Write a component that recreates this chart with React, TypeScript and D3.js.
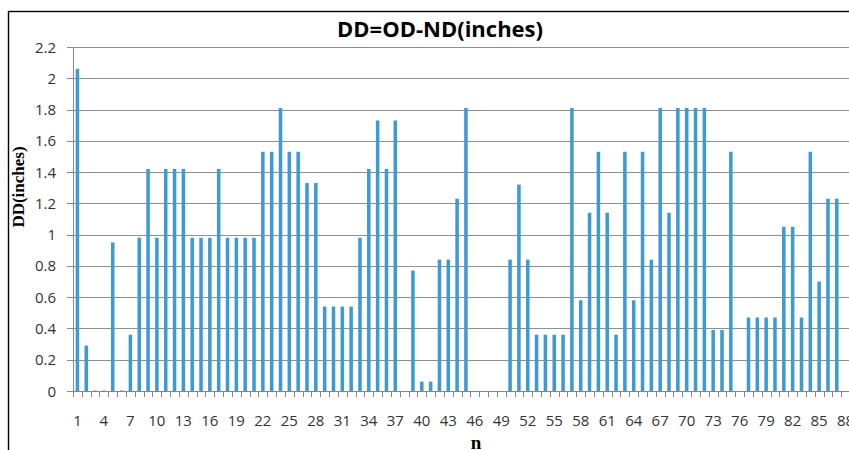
import React from 'react'
import * as d3 from 'd3'

// n = 1..88
const categories: number[] = d3.range(1, 89)
const ddValues: number[] = [
  2.06, 0.29, 0.005, 0.005, 0.95, 0.005, 0.36, 0.98, 1.42, 0.98,
  1.42, 1.42, 1.42, 0.98, 0.98, 0.98, 1.42, 0.98, 0.98, 0.98,
  0.98, 1.53, 1.53, 1.81, 1.53, 1.53, 1.33, 1.33, 0.54, 0.54,
  0.54, 0.54, 0.98, 1.42, 1.73, 1.42, 1.73, 0, 0.77, 0.06,
  0.06, 0.84, 0.84, 1.23, 1.81, 0, 0, 0, 0, 0.84,
  1.32, 0.84, 0.36, 0.36, 0.36, 0.36, 1.81, 0.58, 1.14, 1.53,
  1.14, 0.36, 1.53, 0.58, 1.53, 0.84, 1.81, 1.14, 1.81, 1.81,
  1.81, 1.81, 0.39, 0.39, 1.53, 0, 0.47, 0.47, 0.47, 0.47,
  1.05, 1.05, 0.47, 1.53, 0.70, 1.23, 1.23, 0,
]
const yTicks: number[] = [0, 0.2, 0.4, 0.6, 0.8, 1, 1.2, 1.4, 1.6, 1.8, 2, 2.2]
const xTickLabels: number[] = categories.filter(n => (n - 1) % 3 === 0)

const W = 849
const H = 450
const left = 73
const top = 47
const bottom = 391
const catW = 8.83

export default function App() {
  const x = d3.scaleBand<number>()
    .domain(categories)
    .range([left, left + catW * categories.length])
    .paddingInner(0.6)
    .paddingOuter(0.3)
  const y = d3.scaleLinear().domain([0, 2.2]).range([bottom, top])
  const step = x.step()
  const x0 = left

  const labelFont = "'Open Sans', sans-serif"
  const serif = "'Liberation Serif', 'DejaVu Serif', serif"

  return (
    <div style={{ position: 'absolute', left: 0, top: 0 }}>
      <svg width={W} height={H} style={{ display: 'block', background: '#fff' }}>
        {/* outer frame, cropped at right and bottom */}
        <rect x={8.5} y={11.5} width={900} height={500} fill="none" stroke="#000" strokeWidth={1.4} />

        {/* gridlines */}
        {yTicks.map(t => (
          <line key={'g' + t} x1={left} x2={W} y1={Math.round(y(t)) + 0.5} y2={Math.round(y(t)) + 0.5}
            stroke="#8f8f8f" strokeWidth={1} />
        ))}

        {/* bars */}
        {categories.map((n, i) => {
          const v = ddValues[i]
          if (v <= 0) return null
          const yt = y(v)
          const h = Math.max(bottom - yt, 1)
          return (
            <rect key={'b' + n} x={x(n)} y={bottom - h} width={x.bandwidth()} height={h}
              fill={v < 0.01 ? '#9cc9e8' : '#3c9bd4'} />
          )
        })}

        {/* y axis */}
        <line x1={left + 0.5} x2={left + 0.5} y1={top} y2={bottom} stroke="#868686" />
        {yTicks.map(t => (
          <g key={'y' + t}>
            <line x1={left - 6} x2={left} y1={Math.round(y(t)) + 0.5} y2={Math.round(y(t)) + 0.5} stroke="#868686" />
            <text x={56} y={y(t) + 5.5} textAnchor="end" fontFamily={labelFont} fontSize={15} fill="#333">
              {d3.format('~g')(t)}
            </text>
          </g>
        ))}

        {/* x axis */}
        <line x1={left} x2={W} y1={bottom + 0.5} y2={bottom + 0.5} stroke="#868686" />
        {d3.range(categories.length + 1).map(k => (
          <line key={'t' + k} x1={Math.round(x0 + k * step) + 0.5} x2={Math.round(x0 + k * step) + 0.5}
            y1={bottom} y2={bottom + 6} stroke="#868686" />
        ))}
        {xTickLabels.map(n => (
          <text key={'x' + n} x={(x(n) ?? 0) + x.bandwidth() / 2} y={426} textAnchor="middle"
            fontFamily={labelFont} fontSize={15} fill="#333">
            {n}
          </text>
        ))}

        {/* titles */}
        <text x={440} y={37} textAnchor="middle" fontFamily={labelFont} fontWeight="bold" fontSize={22} fill="#000">
          DD=OD-ND(inches)
        </text>
        <text transform="translate(24,187) rotate(-90)" textAnchor="middle" fontFamily={serif}
          fontWeight="bold" fontSize={17} fill="#000">
          DD(inches)
        </text>
        <text x={476} y={449} textAnchor="middle" fontFamily={serif} fontWeight="bold" fontSize={19} fill="#000">
          n
        </text>
      </svg>
    </div>
  )
}
